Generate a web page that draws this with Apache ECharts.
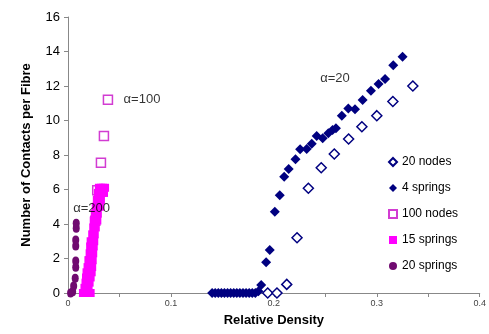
<!DOCTYPE html>
<html>
<head>
<meta charset="utf-8">
<script src="https://cdn.jsdelivr.net/npm/echarts@6/dist/echarts.min.js"></script>
<style>
html, body { margin: 0; padding: 0; background: #fff; }
#main { width: 489px; height: 334px; }
</style>
</head>
<body>
<div id="main"></div>
<script>
// series data: [relative density, contacts per fibre]
var nodes20 = [[0.194,0],[0.203,0],[0.2125,0.5],[0.2225,3.2],[0.2335,6.07],[0.246,7.26],[0.2587,8.06],
  [0.2726,8.93],[0.2855,9.64],[0.300,10.28],[0.3156,11.1],[0.335,12.0]];
var springs4 = [[0.140,0],[0.143,0],[0.146,0],[0.149,0],[0.152,0],[0.155,0],[0.158,0],[0.161,0],[0.164,0],
  [0.167,0],[0.170,0],[0.173,0],[0.176,0],[0.179,0],[0.182,0],[0.185,0.1],
  [0.1877,0.46],[0.1925,1.78],[0.196,2.49],[0.2009,4.71],[0.2057,5.66],[0.21,6.74],[0.2144,7.19],
  [0.221,7.75],[0.2255,8.33],[0.2319,8.35],[0.2368,8.65],[0.2416,9.1],[0.2474,8.97],[0.2529,9.26],
  [0.257,9.45],[0.2603,9.55],[0.266,10.28],[0.2723,10.7],[0.2788,10.65],[0.2862,11.19],[0.2943,11.73],
  [0.3017,12.12],[0.308,12.4],[0.316,13.2],[0.325,13.7]];
var nodes100 = [[0.0213,1.82],[0.0265,4.19],[0.0284,5.95],[0.032,7.55],[0.0349,9.1],[0.0388,11.2]];
var springs15 = [[0.0145,0],[0.017,0],[0.019,0],[0.021,0],[0.022,0],[0.016,0.3],[0.02,0.3],
  [0.017,0.6],[0.021,0.6],[0.0175,0.9],[0.022,0.9],[0.018,1.2],[0.023,1.2],[0.019,1.5],[0.0235,1.5],
  [0.02,1.9],[0.024,1.9],[0.021,2.3],[0.0245,2.3],[0.0215,2.7],[0.025,2.7],[0.022,3.0],[0.0255,3.0],
  [0.0235,3.4],[0.026,3.4],[0.0245,3.8],[0.027,3.8],[0.025,4.2],[0.0285,4.2],[0.026,4.6],[0.029,4.6],
  [0.027,5.0],[0.031,5.0],[0.028,5.4],[0.032,5.4],[0.029,5.8],[0.033,5.8],[0.035,5.8],
  [0.030,6.1],[0.032,6.1],[0.034,6.1],[0.036,6.1]];
var springs20 = [[0.0025,0],[0.0045,0.07],[0.0055,0.4],[0.007,0.85],[0.0075,1.49],[0.0075,1.86],
  [0.0075,2.72],[0.0075,3.07],[0.008,3.75],[0.008,4.04]];
var labels = [
  { text: 'α=100', x: 0.054, y: 11.2 },
  { text: 'α=200', x: 0.005, y: 4.9 },
  { text: 'α=20', x: 0.245, y: 12.45 }
];

var navy = '#000080';
var chart = echarts.init(document.getElementById('main'));
chart.setOption({
  animation: false,
  grid: { left: 68, right: 8, top: 17, bottom: 41 },
  legend: {
    orient: 'vertical', left: 383, top: 151, itemGap: 14,
    itemWidth: 8, itemHeight: 8,
    textStyle: { fontFamily: 'Liberation Sans', fontSize: 12, color: '#000' },
    data: ['20 nodes', '4 springs', '100 nodes', '15 springs', '20 springs']
  },
  xAxis: {
    type: 'value', min: 0, max: 0.4, interval: 0.05,
    name: 'Relative Density', nameLocation: 'middle', nameGap: 21,
    nameTextStyle: { fontFamily: 'Liberation Sans', fontWeight: 'bold', fontSize: 13, color: '#000' },
    axisLine: { lineStyle: { color: '#888' } },
    axisTick: { length: 4, lineStyle: { color: '#888' } },
    axisLabel: {
      fontFamily: 'Liberation Sans', fontSize: 9, color: '#444', margin: 6,
      formatter: function (v) {
        var k = Math.round(v * 100);
        return k % 10 === 0 ? String(k / 100) : '';
      }
    },
    splitLine: { show: false }
  },
  yAxis: {
    type: 'value', min: 0, max: 16, interval: 2,
    name: 'Number of Contacts per Fibre', nameLocation: 'middle', nameGap: 35,
    nameTextStyle: { fontFamily: 'Liberation Sans', fontWeight: 'bold', fontSize: 13, color: '#000' },
    axisLine: { show: true, lineStyle: { color: '#888' } },
    axisTick: { show: true, length: 4, lineStyle: { color: '#888' } },
    axisLabel: { fontFamily: 'Liberation Sans', fontSize: 13, color: '#000', margin: 8 },
    splitLine: { show: false }
  },
  series: [
    { name: '20 nodes', type: 'scatter', data: nodes20, symbol: 'diamond', symbolSize: 10,
      itemStyle: { color: '#fff', borderColor: navy, borderWidth: 1.5, opacity: 1 } },
    { name: '4 springs', type: 'scatter', data: springs4, symbol: 'diamond', symbolSize: 10,
      itemStyle: { color: navy, opacity: 1 } },
    { name: '100 nodes', type: 'scatter', data: nodes100, symbol: 'rect', symbolSize: 9,
      itemStyle: { color: '#fff', borderColor: '#d23cd2', borderWidth: 1.5, opacity: 1 } },
    { name: '15 springs', type: 'scatter', data: springs15, symbol: 'rect', symbolSize: 8,
      itemStyle: { color: '#ff00ff', opacity: 1 } },
    { name: '20 springs', type: 'scatter', data: springs20, symbol: 'circle', symbolSize: [7, 9],
      itemStyle: { color: '#700a70', opacity: 1 } },
    { type: 'scatter', silent: true, symbolSize: 0,
      data: labels.map(function (d) { return { value: [d.x, d.y], name: d.text }; }),
      label: { show: true, position: 'right', distance: 0, formatter: '{b}',
        fontFamily: 'Liberation Sans', fontSize: 13, color: '#000' } }
  ]
});
window.addEventListener('resize', function () { chart.resize(); });
</script>
</body>
</html>
